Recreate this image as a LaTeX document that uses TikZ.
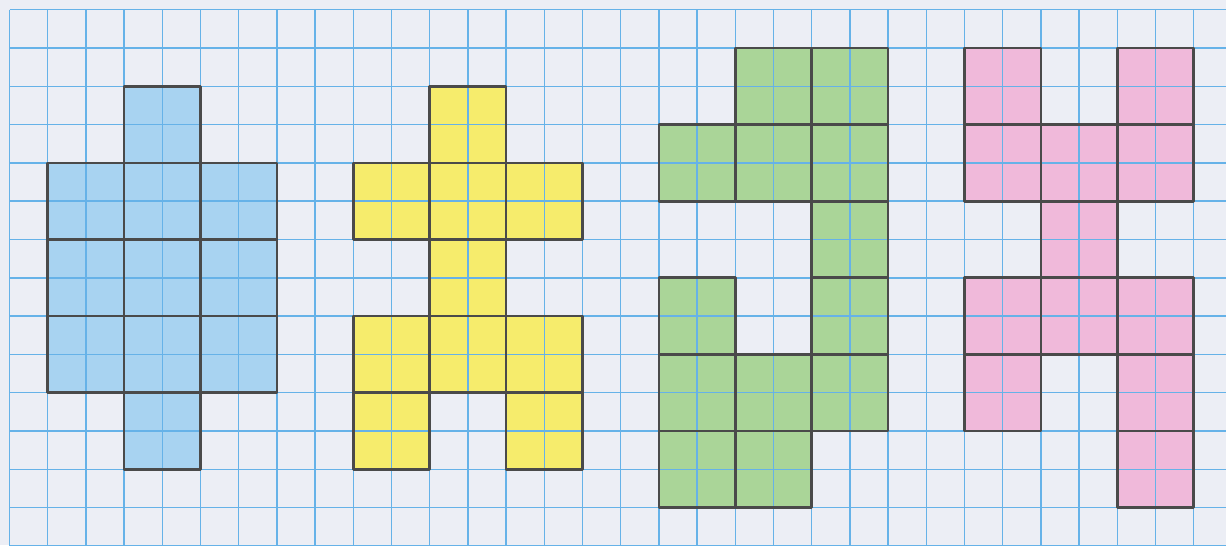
\documentclass[tikz,border=0pt]{standalone}
\usepackage{xcolor}
\definecolor{paper}{HTML}{ECEEF5}
\definecolor{gridblue}{HTML}{66B2E8}
\definecolor{outline}{HTML}{4A4A4A}
\definecolor{fillblue}{HTML}{A8D3F1}
\definecolor{fillyellow}{HTML}{F6EC6C}
\definecolor{fillgreen}{HTML}{AAD598}
\definecolor{fillpink}{HTML}{F0B9DA}
\tikzset{
  gridline/.style={draw=gridblue, line width=0.85pt},
  blockline/.style={draw=outline, line width=1.5pt, line join=round},
}
\newcommand{\cellblk}[2]{(#1,#2) rectangle ++(2,2)}
\begin{document}
\begin{tikzpicture}
\fill[paper] (0,0) rectangle (24.52,-10.9);
\useasboundingbox (0,0) rectangle (24.52,-10.9);
\begin{scope}
\clip (0,0) rectangle (24.52,-10.9);
\begin{scope}[shift={(0.19,-0.194)}, x=0.764cm, y=-0.766cm]
  % fills
  \foreach \a/\b in {3/2, 1/4,3/4,5/4, 1/6,3/6,5/6, 1/8,3/8,5/8, 3/10}
    \fill[fillblue] \cellblk{\a}{\b};
  \foreach \a/\b in {11/2, 9/4,11/4,13/4, 11/6, 9/8,11/8,13/8, 9/10,13/10}
    \fill[fillyellow] \cellblk{\a}{\b};
  \foreach \a/\b in {19/1,21/1, 17/3,19/3,21/3, 21/5, 17/7,21/7, 17/9,19/9,21/9, 17/11,19/11}
    \fill[fillgreen] \cellblk{\a}{\b};
  \foreach \a/\b in {25/1,29/1, 25/3,27/3,29/3, 27/5, 25/7,27/7,29/7, 25/9,29/9, 29/11}
    \fill[fillpink] \cellblk{\a}{\b};
  % grid
  \foreach \i in {0,...,32}
    \draw[gridline] (\i,0) -- (\i,14.5);
  \foreach \j in {0,...,14}
    \draw[gridline] (0,\j) -- (32.5,\j);
  % outlines
  \foreach \a/\b in {3/2, 1/4,3/4,5/4, 1/6,3/6,5/6, 1/8,3/8,5/8, 3/10,
                     11/2, 9/4,11/4,13/4, 11/6, 9/8,11/8,13/8, 9/10,13/10,
                     19/1,21/1, 17/3,19/3,21/3, 21/5, 17/7,21/7, 17/9,19/9,21/9, 17/11,19/11,
                     25/1,29/1, 25/3,27/3,29/3, 27/5, 25/7,27/7,29/7, 25/9,29/9, 29/11}
    \draw[blockline] \cellblk{\a}{\b};
\end{scope}
\end{scope}
\end{tikzpicture}
\end{document}
